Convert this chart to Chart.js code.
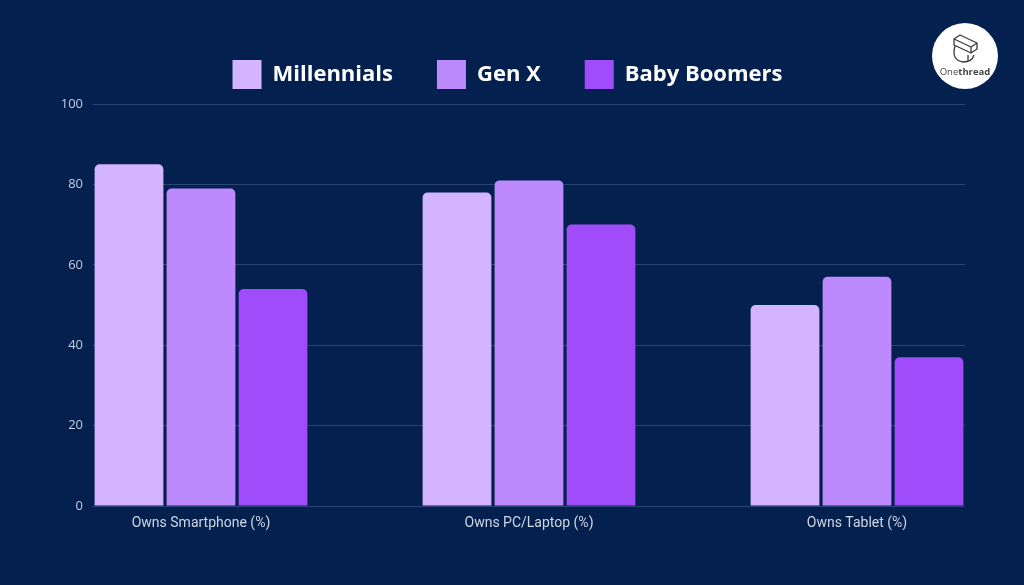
<!DOCTYPE html>
<html>
<head>
<meta charset="utf-8">
<script src="https://cdn.jsdelivr.net/npm/chart.js@4.4.1/dist/chart.umd.min.js"></script>
<style>
  html, body { margin: 0; padding: 0; background: #03204e; }
  #wrap { width: 1024px; height: 585px; }
  canvas { display: block; }
</style>
</head>
<body>
<div id="wrap"><canvas id="c" width="1024" height="585"></canvas></div>
<script>
const categories = ['Owns Smartphone (%)', 'Owns PC/Laptop (%)', 'Owns Tablet (%)'];
const seriesNames = ['Millennials', 'Gen X', 'Baby Boomers'];
const millennials = [85, 78, 50];
const genX = [79, 81, 57];
const babyBoomers = [54, 70, 37];
const yTickValues = [0, 20, 40, 60, 80, 100];

const seriesColors = ['#d4b4fe', '#bd8afd', '#a04cfb'];
const groupFraction = 0.6585;

class FlushCategoryScale extends Chart.CategoryScale {
  configure() {
    super.configure();
    const pad = this.options.edgePad != null ? this.options.edgePad : 0.5;
    this._startValue = this.min - pad;
    this._valueRange = (this.max - this.min) + 2 * pad;
  }
}
FlushCategoryScale.id = 'flushCategory';
FlushCategoryScale.defaults = Chart.CategoryScale.defaults;
Chart.register(FlushCategoryScale);

const legendHeightPlugin = {
  id: 'legendHeight',
  beforeLayout(chart) {
    const lg = chart.legend;
    if (lg && !lg._fixedHeight) {
      const orig = lg.fit.bind(lg);
      lg.fit = function () { orig(); this.height = 88; };
      lg._fixedHeight = true;
    }
  }
};

const logoPlugin = {
  id: 'logo',
  afterDraw(chart) {
    const ctx = chart.ctx;
    const cx = 965, cy = 56, r = 33;
    ctx.save();
    ctx.fillStyle = '#ffffff';
    ctx.beginPath(); ctx.arc(cx, cy, r, 0, Math.PI * 2); ctx.fill();
    ctx.strokeStyle = '#3a3a3a';
    ctx.lineWidth = 1.3;
    ctx.lineJoin = 'round';
    ctx.beginPath();
    ctx.moveTo(954, 39); ctx.lineTo(960, 35); ctx.lineTo(977, 43); ctx.lineTo(977, 49);
    ctx.lineTo(971, 53); ctx.lineTo(954, 45); ctx.closePath();
    ctx.moveTo(954, 39); ctx.lineTo(971, 47); ctx.lineTo(977, 43);
    ctx.moveTo(971, 47); ctx.lineTo(971, 53);
    ctx.stroke();
    ctx.beginPath();
    ctx.moveTo(955, 46); ctx.quadraticCurveTo(951, 60, 963, 62); ctx.quadraticCurveTo(972, 62, 974, 55);
    ctx.moveTo(968, 55); ctx.lineTo(968, 61);
    ctx.stroke();
    ctx.fillStyle = '#444';
    ctx.textBaseline = 'alphabetic';
    const t1 = 'One', t2 = 'thread';
    ctx.font = '9.5px "Open Sans"';
    const w1 = ctx.measureText(t1).width;
    ctx.font = 'bold 9.5px "Open Sans"';
    const w2 = ctx.measureText(t2).width;
    const sx = cx - (w1 + w2) / 2;
    ctx.font = '9.5px "Open Sans"';
    ctx.fillText(t1, sx, 75);
    ctx.font = 'bold 9.5px "Open Sans"';
    ctx.fillText(t2, sx + w1, 75);
    ctx.restore();
  }
};

const datasetValues = [millennials, genX, babyBoomers];
const datasets = datasetValues.map((vals, i) => ({
  label: seriesNames[i],
  data: vals,
  backgroundColor: seriesColors[i],
  borderWidth: 0,
  borderRadius: 5,
  borderSkipped: 'start',
  categoryPercentage: groupFraction,
  barPercentage: 0.955
}));

new Chart(document.getElementById('c'), {
  type: 'bar',
  data: { labels: categories, datasets },
  options: {
    responsive: false,
    animation: false,
    layout: { padding: { left: 50, right: 59, top: 16, bottom: 49 } },
    plugins: {
      legend: {
        position: 'top',
        labels: {
          boxWidth: 29,
          boxHeight: 29,
          padding: 44,
          color: '#ffffff',
          font: { family: '"Open Sans"', size: 22, weight: 'bold' }
        }
      },
      tooltip: { enabled: false }
    },
    scales: {
      x: {
        type: 'flushCategory',
        edgePad: groupFraction / 2,
        grid: { display: false },
        border: { display: false },
        ticks: {
          color: '#d0d6e4',
          padding: 1,
          font: { family: 'Roboto', size: 14 }
        },
        afterFit(scale) { scale.height = 30; }
      },
      y: {
        min: 0,
        max: 100,
        afterBuildTicks(scale) { scale.ticks = yTickValues.map(v => ({ value: v })); },
        grid: { color: '#2a4573', lineWidth: 1, drawTicks: false },
        border: { display: false },
        ticks: {
          color: '#c5cde0',
          padding: 10,
          font: { family: '"Open Sans"', size: 13 }
        },
        afterFit(scale) { scale.width = 43; }
      }
    }
  },
  plugins: [legendHeightPlugin, logoPlugin]
});
</script>
</body>
</html>
